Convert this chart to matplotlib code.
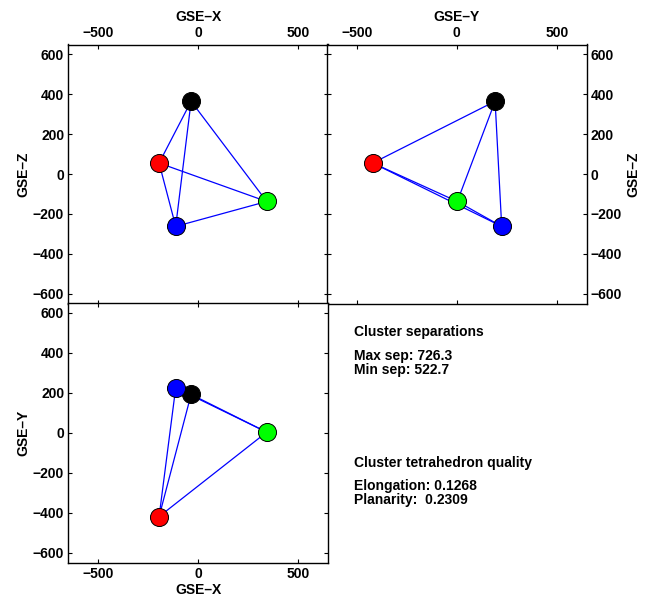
import matplotlib
matplotlib.use("Agg")
import matplotlib.pyplot as plt

plt.rcParams['font.family'] = ['Liberation Sans', 'DejaVu Sans']
plt.rcParams['font.weight'] = 'bold'
plt.rcParams['axes.labelweight'] = 'bold'
plt.rcParams['font.size'] = 10
plt.rcParams['axes.unicode_minus'] = True

# Spacecraft positions (GSE, km relative to barycentre)
sc_colors = ['black', 'red', '#00ff00', 'blue']
gse_x = [-36, -196, 342, -113]
gse_y = [192, -420, 3, 225]
gse_z = [365, 55, -138, -263]

x_ticks = [-500, 0, 500]
y_ticks = [-600, -400, -200, 0, 200, 400, 600]
lim = 650

max_sep = 726.3
min_sep = 522.7
elongation = 0.1268
planarity = 0.2309

fig = plt.figure(figsize=(6.49, 5.98), dpi=100)
W, H = 649, 598


def ax_at(x0, y0, x1, y1):
    return fig.add_axes([x0 / W, 1 - y1 / H, (x1 - x0) / W, (y1 - y0) / H])


def tetra(ax, u, v):
    n = len(u)
    for i in range(n):
        for j in range(i + 1, n):
            ax.plot([u[i], u[j]], [v[i], v[j]], color='blue', lw=0.9, zorder=2)
    for i in range(n):
        ax.plot(u[i], v[i], 'o', ms=13, mfc=sc_colors[i], mec='black',
                mew=0.7, zorder=3)
    ax.set_xlim(-lim, lim)
    ax.set_ylim(-lim, lim)
    ax.set_xticks(x_ticks)
    ax.set_yticks(y_ticks)
    ax.tick_params(direction='in', length=3, width=0.8, top=True, right=True,
                   pad=3)
    for s in ax.spines.values():
        s.set_linewidth(1.0)


dash = '\u2013'

ax1 = ax_at(68.3, 44.5, 328.3, 303.5)
tetra(ax1, gse_x, gse_z)
ax1.xaxis.tick_top()
ax1.tick_params(top=True, bottom=True, labeltop=True, labelbottom=False)
ax1.xaxis.set_label_position('top')
ax1.set_xlabel('GSE' + dash + 'X', labelpad=4)
ax1.set_ylabel('GSE' + dash + 'Z', labelpad=2)

ax2 = ax_at(326.7, 44.5, 586.7, 303.5)
tetra(ax2, gse_y, gse_z)
ax2.tick_params(top=True, bottom=True, labeltop=True, labelbottom=False,
                left=True, right=True, labelleft=False, labelright=True)
ax2.xaxis.set_label_position('top')
ax2.yaxis.set_label_position('right')
ax2.set_xlabel('GSE' + dash + 'Y', labelpad=4)
ax2.set_ylabel('GSE' + dash + 'Z', labelpad=3, rotation=90)

ax3 = ax_at(68.3, 303, 328.3, 562.5)
tetra(ax3, gse_x, gse_y)
ax3.set_xlabel('GSE' + dash + 'X', labelpad=2)
ax3.set_ylabel('GSE' + dash + 'Y', labelpad=2)

tx = 354 / W
fig.text(tx, 1 - 335.7 / H, 'Cluster separations', va='baseline')
fig.text(tx, 1 - 348.8 / H,
         'Max sep: %.1f\nMin sep: %.1f' % (max_sep, min_sep),
         va='top', linespacing=1.03)
fig.text(tx, 1 - 466.7 / H, 'Cluster tetrahedron quality', va='baseline')
fig.text(tx, 1 - 478.8 / H,
         'Elongation: %.4f\nPlanarity:  %.4f' % (elongation, planarity),
         va='top', linespacing=1.03)

fig.savefig('out.png', dpi=100)
